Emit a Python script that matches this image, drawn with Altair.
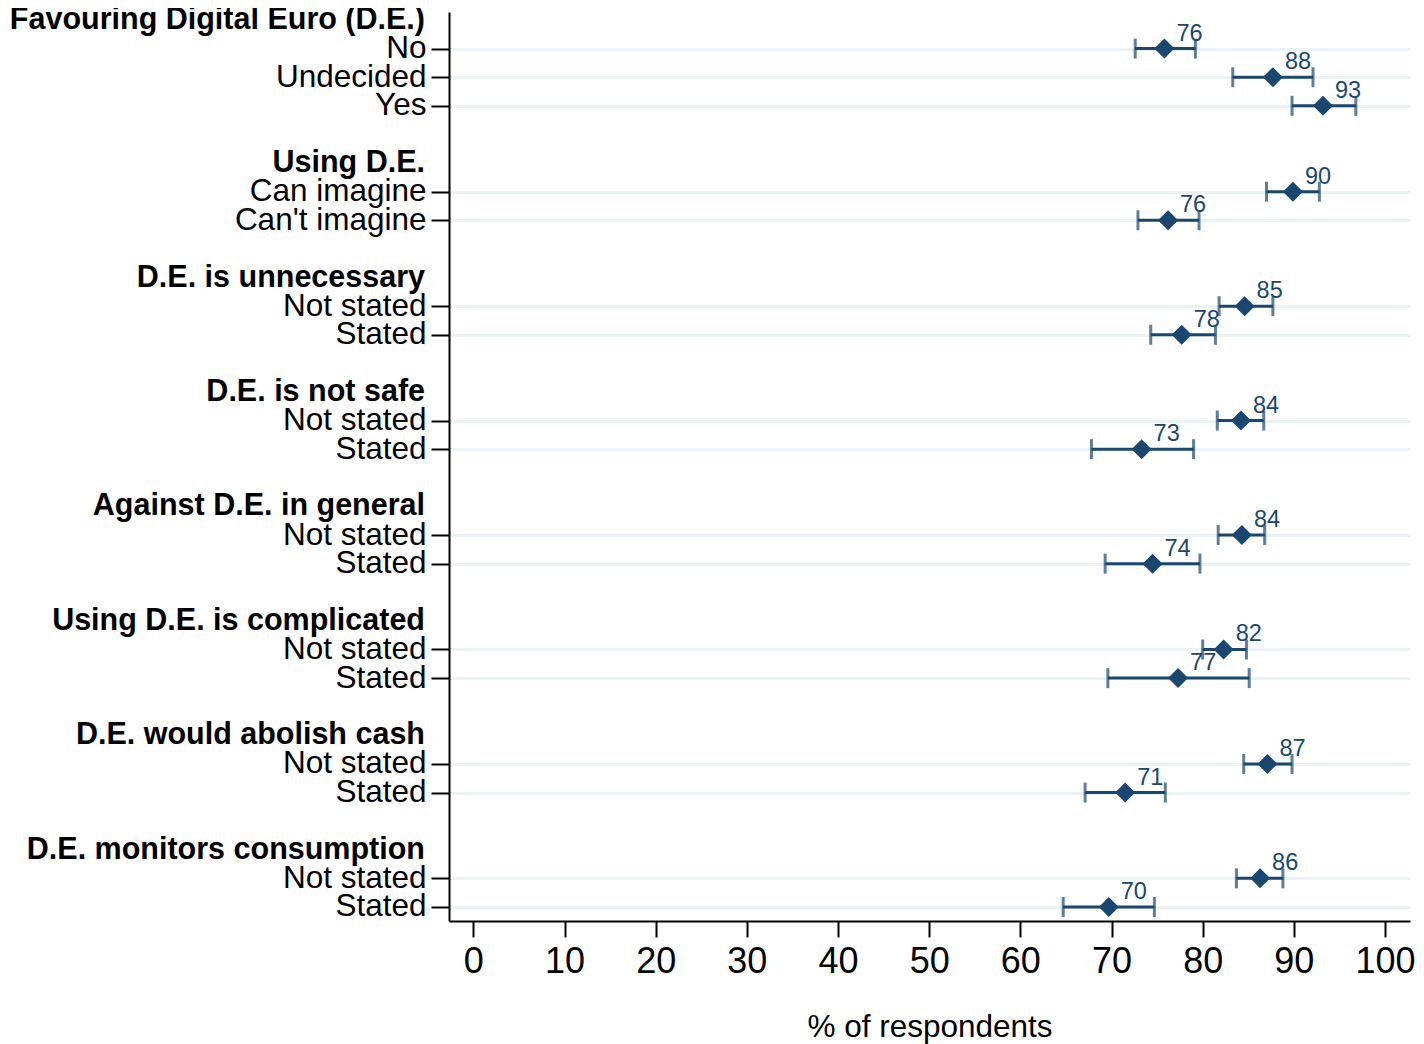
import altair as alt
import pandas as pd

# ---- data ----
headers = [
    "Favouring Digital Euro (D.E.)",
    "Using D.E.",
    "D.E. is unnecessary",
    "D.E. is not safe",
    "Against D.E. in general",
    "Using D.E. is complicated",
    "D.E. would abolish cash",
    "D.E. monitors consumption",
]
header_rows = [0, 5, 9, 13, 17, 21, 25, 29]

item_labels = [
    "No", "Undecided", "Yes",
    "Can imagine", "Can't imagine",
    "Not stated", "Stated",
    "Not stated", "Stated",
    "Not stated", "Stated",
    "Not stated", "Stated",
    "Not stated", "Stated",
    "Not stated", "Stated",
]
item_rows = [1, 2, 3, 6, 7, 10, 11, 14, 15, 18, 19, 22, 23, 26, 27, 30, 31]
estimates = [75.8, 87.7, 93.2, 89.9, 76.2, 84.6, 77.7, 84.2, 73.3,
             84.3, 74.5, 82.3, 77.3, 87.1, 71.5, 86.3, 69.7]
ci_low = [72.6, 83.3, 89.8, 87.0, 72.9, 81.8, 74.3, 81.6, 67.8,
          81.7, 69.3, 80.0, 69.6, 84.5, 67.1, 83.7, 64.7]
ci_high = [79.2, 92.1, 96.8, 92.8, 79.6, 87.7, 81.4, 86.7, 79.0,
           86.8, 79.7, 84.8, 85.1, 89.8, 75.9, 88.8, 74.7]
value_labels = ["76", "88", "93", "90", "76", "85", "78", "84", "73",
                "84", "74", "82", "77", "87", "71", "86", "70"]

x_ticks = [0, 10, 20, 30, 40, 50, 60, 70, 80, 90, 100]

# ---- tables ----
items = pd.DataFrame({
    "row": item_rows, "label": item_labels, "est": estimates,
    "lo": ci_low, "hi": ci_high, "txt": value_labels,
})
heads = pd.DataFrame({"row": header_rows, "label": headers})

NAVY = "#1A476F"
FONT = "Liberation Sans"

label_expr = "{" + ",".join(f"'{r}':\"{l}\"" for r, l in zip(item_rows, item_labels)) + "}[datum.value]"

xscale = alt.Scale(domain=[-2.67, 102.74], nice=False, zero=False)
yscale = alt.Scale(domain=[-0.28, 31.49], reverse=True, nice=False, zero=False)

x_axis = alt.Axis(
    values=x_ticks, title="% of respondents", grid=False,
    labelFontSize=36, titleFontSize=31.5, labelFont=FONT, titleFont=FONT,
    titleFontWeight="normal", labelColor="black", titleColor="black",
    domainColor="black", domainWidth=2, tickColor="black", tickWidth=2,
    tickSize=16, labelPadding=7, titlePadding=32, labelFlush=False)

y_axis = alt.Axis(
    values=item_rows, labelExpr=label_expr, title=None, grid=True,
    gridColor="#EAF2F3", gridWidth=3, labelFontSize=31.5, labelFont=FONT,
    labelColor="black", domainColor="black", domainWidth=2,
    tickColor="black", tickWidth=2, tickSize=18, labelPadding=5,
    labelFlush=False, labelOverlap=False, labelLimit=600)

base = alt.Chart(items)

bars = base.mark_rule(color=NAVY, strokeWidth=3).encode(
    x=alt.X("lo:Q", scale=xscale, axis=x_axis),
    x2="hi:Q",
    y=alt.Y("row:Q", scale=yscale, axis=y_axis),
)

caps_lo = base.mark_tick(color=NAVY, thickness=3, size=20, orient="vertical").encode(
    x=alt.X("lo:Q", scale=xscale), y=alt.Y("row:Q", scale=yscale))
caps_hi = base.mark_tick(color=NAVY, thickness=3, size=20, orient="vertical").encode(
    x=alt.X("hi:Q", scale=xscale), y=alt.Y("row:Q", scale=yscale))

points = base.mark_point(shape="diamond", filled=True, size=400, color=NAVY, opacity=1).encode(
    x=alt.X("est:Q", scale=xscale), y=alt.Y("row:Q", scale=yscale))

vlabels = base.mark_text(color=NAVY, font=FONT, fontSize=23.5, align="left",
                         baseline="alphabetic", dx=12, dy=-8).encode(
    x=alt.X("est:Q", scale=xscale), y=alt.Y("row:Q", scale=yscale), text="txt:N")

hlabels = alt.Chart(heads).mark_text(font=FONT, fontSize=30.5, fontWeight="bold",
                                     align="right", baseline="middle", color="black").encode(
    x=alt.value(-24), y=alt.Y("row:Q", scale=yscale), text="label:N")

chart = alt.layer(bars, caps_lo, caps_hi, points, vlabels, hlabels).properties(
    width=961, height=909,
    autosize=alt.AutoSizeParams(type="none"),
    padding={"left": 441, "top": 4, "right": 6, "bottom": 123},
).configure_view(stroke=None)

chart.save("out.html", embed_options={"renderer": "svg", "actions": False})
